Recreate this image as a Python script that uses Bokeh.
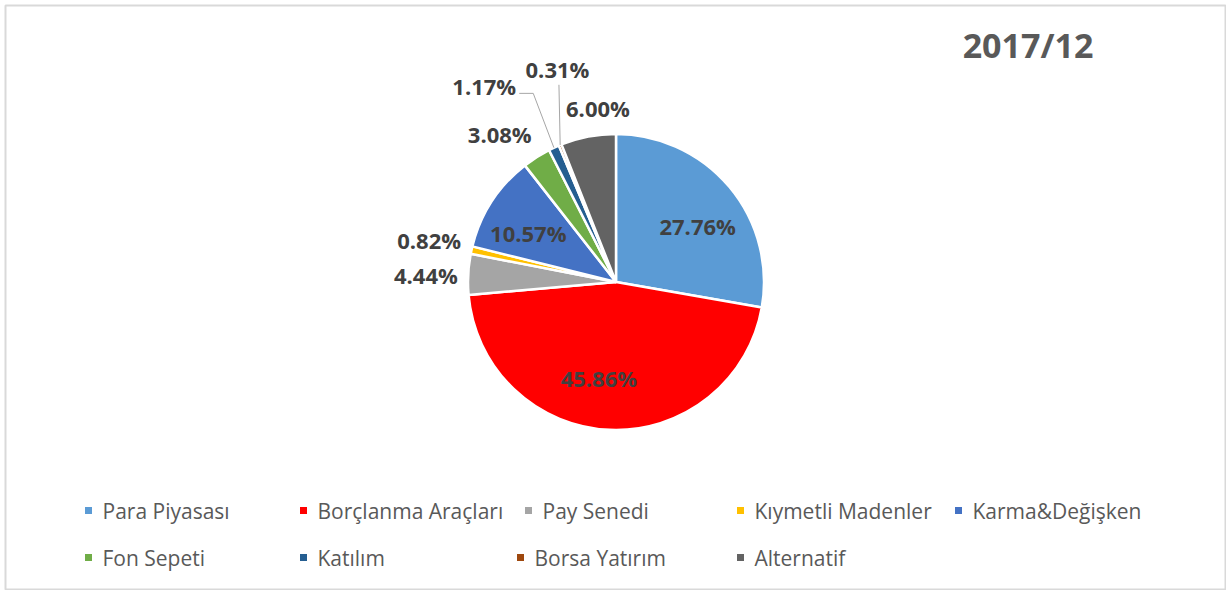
import numpy as np
from bokeh.plotting import figure
from bokeh.models import Range1d, ColumnDataSource
from bokeh.core.properties import value
from bokeh.embed import file_html
from bokeh.resources import INLINE

# ---- data ----
categories = ["Para Piyasası", "Borçlanma Araçları", "Pay Senedi", "Kıymetli Madenler",
              "Karma&Değişken", "Fon Sepeti", "Katılım", "Borsa Yatırım", "Alternatif"]
shares = [27.76, 45.86, 4.44, 0.82, 10.57, 3.08, 1.17, 0.31, 6.00]
label_texts = ["27.76%", "45.86%", "4.44%", "0.82%", "10.57%", "3.08%", "1.17%", "0.31%", "6.00%"]
title_text = "2017/12"

# ---- styles ----
colors = ["#5B9BD5", "#FF0000", "#A5A5A5", "#FFC000", "#4472C4",
          "#70AD47", "#255E91", "#9E480E", "#636363"]
W, H = 1226, 590
CX, CY, R = 615.5, 308.5, 148.0
# label placement: radius factor (of R) along mid angle, plus pixel nudge
label_rf = [0.65, 0.65, 1.3, 1.3, 0.65, 1.3, 1.3, 1.3, 1.3]
label_nudge = [(8, -6), (-13, 0), (2, -3), (1, 0), (-7, -3), (-13, -14), (-51, 21), (14, 35), (18, -15)]
FONT = "Open Sans"

p = figure(width=W, height=H, x_range=Range1d(0, W), y_range=Range1d(0, H),
           output_backend="svg", toolbar_location=None, min_border=0)
p.axis.visible = False
p.grid.visible = False
p.outline_line_color = None
p.background_fill_color = "white"

# chart border
p.quad(left=[5], right=[1225], bottom=[1], top=[585], fill_color=None,
       line_color="#D9D9D9", line_width=2)

vals = np.array(shares, dtype=float)
frac = vals / vals.sum()
cum = np.concatenate([[0.0], np.cumsum(frac)])
start = np.pi / 2 - 2 * np.pi * cum[:-1]
end = np.pi / 2 - 2 * np.pi * cum[1:]
mid = (start + end) / 2

src = ColumnDataSource(dict(start=start, end=end, color=colors, cat=categories))
p.wedge(x=CX, y=CY, radius=R, start_angle="start", end_angle="end", direction="clock",
        fill_color="color", line_color="white", line_width=2.5, source=src)

lx, ly = [], []
for i in range(len(vals)):
    r = label_rf[i] * R
    lx.append(CX + r * np.cos(mid[i]) + label_nudge[i][0])
    ly.append(CY + r * np.sin(mid[i]) + label_nudge[i][1])

p.text(x=lx, y=ly, text=label_texts, text_align="center", text_baseline="middle",
       text_font=value(FONT), text_font_style="bold", text_font_size="22px",
       text_color="#404040")

# leader lines for Katılım (6) and Borsa Yatırım (7)
i = 6
ex, ey = CX + R * np.cos(mid[i]), CY + R * np.sin(mid[i])
sx, sy = lx[i] + 35, ly[i] - 7
p.line([sx, sx + 14, ex], [sy, sy, ey], line_color="#A6A6A6", line_width=1)
i = 7
ex, ey = CX + R * np.cos(mid[i]), CY + R * np.sin(mid[i])
sx, sy = lx[i] + 1.5, ly[i] - 16
p.line([sx, ex], [sy, ey], line_color="#A6A6A6", line_width=1)

# title
p.text(x=[1027.5], y=[545.5], text=[title_text], text_align="center", text_baseline="middle",
       text_font=value(FONT), text_font_style="bold", text_font_size="34px",
       text_color="#595959")

# legend (manual, two rows)
row_x = [[88, 303, 528, 740, 958], [88, 303, 520, 740]]
row_y = [80, 33]
mx, my, tx = [], [], []
for r_i, xs in enumerate(row_x):
    for x in xs:
        mx.append(x)
        my.append(row_y[r_i])
        tx.append(x + 14)
p.scatter(x=mx, y=my, marker="square", size=7, fill_color=colors, line_color=None)
p.text(x=tx, y=my, text=categories, text_align="left", text_baseline="middle",
       text_font=value(FONT), text_font_size="21px", text_color="#595959")

open("out.html", "w").write(file_html(p, INLINE))
